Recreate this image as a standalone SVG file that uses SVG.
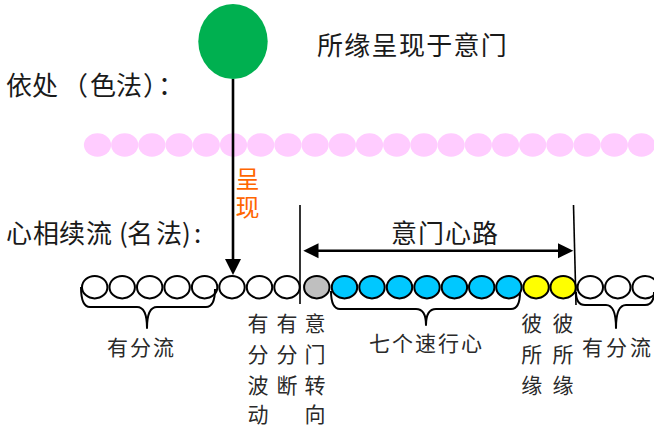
<svg xmlns="http://www.w3.org/2000/svg" width="654" height="428" viewBox="0 0 654 428">
<style>
text{font-family:"Noto Sans CJK SC","Noto Sans",sans-serif;fill:#1a1a1a}
.big{font-size:26px}
.lbl{font-size:21px;fill:#2a2a2a}
.col{font-size:21px;fill:#2a2a2a;text-anchor:middle}
.bead{fill:#FFCCFF;stroke:none}
.c{stroke:#000;stroke-width:2}
.w{fill:#fff}
.g{fill:#BFBFBF}
.b{fill:#00C8FF}
.y{fill:#FFFF00}
.brace{fill:none;stroke:#000;stroke-width:2;stroke-linejoin:round}
.ln{stroke:#000;fill:none}
</style>
<rect width="654" height="428" fill="#fff"/>

<g id="rupa-row">
<ellipse class="bead" cx="97.5" cy="145" rx="13.6" ry="11.7"/>
<ellipse class="bead" cx="124.7" cy="145" rx="13.6" ry="11.7"/>
<ellipse class="bead" cx="151.9" cy="145" rx="13.6" ry="11.7"/>
<ellipse class="bead" cx="179.1" cy="145" rx="13.6" ry="11.7"/>
<ellipse class="bead" cx="206.3" cy="145" rx="13.6" ry="11.7"/>
<ellipse class="bead" cx="233.5" cy="145" rx="13.6" ry="11.7"/>
<ellipse class="bead" cx="260.7" cy="145" rx="13.6" ry="11.7"/>
<ellipse class="bead" cx="287.9" cy="145" rx="13.6" ry="11.7"/>
<ellipse class="bead" cx="315.1" cy="145" rx="13.6" ry="11.7"/>
<ellipse class="bead" cx="342.3" cy="145" rx="13.6" ry="11.7"/>
<ellipse class="bead" cx="369.5" cy="145" rx="13.6" ry="11.7"/>
<ellipse class="bead" cx="396.7" cy="145" rx="13.6" ry="11.7"/>
<ellipse class="bead" cx="423.9" cy="145" rx="13.6" ry="11.7"/>
<ellipse class="bead" cx="451.1" cy="145" rx="13.6" ry="11.7"/>
<ellipse class="bead" cx="478.3" cy="145" rx="13.6" ry="11.7"/>
<ellipse class="bead" cx="505.5" cy="145" rx="13.6" ry="11.7"/>
<ellipse class="bead" cx="532.7" cy="145" rx="13.6" ry="11.7"/>
<ellipse class="bead" cx="559.9" cy="145" rx="13.6" ry="11.7"/>
<ellipse class="bead" cx="587.1" cy="145" rx="13.6" ry="11.7"/>
<ellipse class="bead" cx="614.3" cy="145" rx="13.6" ry="11.7"/>
<ellipse class="bead" cx="641.5" cy="145" rx="13.6" ry="11.7"/>
</g>

<g id="object">
<ellipse cx="233" cy="41.5" rx="34.7" ry="37.5" fill="#00B050"/>
</g>

<g id="mind-row">
<ellipse class="c w" cx="94.7" cy="287.2" rx="12.7" ry="11.2"/>
<ellipse class="c w" cx="122.2" cy="287.2" rx="12.7" ry="11.2"/>
<ellipse class="c w" cx="149.7" cy="287.2" rx="12.7" ry="11.2"/>
<ellipse class="c w" cx="177.1" cy="287.2" rx="12.7" ry="11.2"/>
<ellipse class="c w" cx="204.6" cy="287.2" rx="12.7" ry="11.2"/>
<ellipse class="c w" cx="232.0" cy="287.2" rx="12.7" ry="11.2"/>
<ellipse class="c w" cx="259.5" cy="287.2" rx="12.7" ry="11.2"/>
<ellipse class="c w" cx="287.0" cy="287.2" rx="12.7" ry="11.2"/>
<ellipse class="c g" cx="316.8" cy="287.2" rx="12.7" ry="11.2"/>
<ellipse class="c b" cx="344.5" cy="287.2" rx="12.7" ry="11.2"/>
<ellipse class="c b" cx="372.0" cy="287.2" rx="12.7" ry="11.2"/>
<ellipse class="c b" cx="399.5" cy="287.2" rx="12.7" ry="11.2"/>
<ellipse class="c b" cx="427.0" cy="287.2" rx="12.7" ry="11.2"/>
<ellipse class="c b" cx="454.4" cy="287.2" rx="12.7" ry="11.2"/>
<ellipse class="c b" cx="481.7" cy="287.2" rx="12.7" ry="11.2"/>
<ellipse class="c b" cx="508.9" cy="287.2" rx="12.7" ry="11.2"/>
<ellipse class="c y" cx="536.1" cy="287.2" rx="12.7" ry="11.2"/>
<ellipse class="c y" cx="563.2" cy="287.2" rx="12.7" ry="11.2"/>
<ellipse class="c w" cx="590.3" cy="287.2" rx="12.7" ry="11.2"/>
<ellipse class="c w" cx="617.8" cy="287.2" rx="12.7" ry="11.2"/>
<ellipse class="c w" cx="645.2" cy="287.2" rx="12.7" ry="11.2"/>
</g>

<g id="connectors">
<line class="ln" x1="233" y1="79" x2="233" y2="261" stroke-width="2.6"/>
<polygon points="225,259 241,259 233,275" fill="#000"/>
<line class="ln" x1="300" y1="205" x2="300" y2="304" stroke-width="1.6"/>
<line class="ln" x1="573.5" y1="205" x2="576" y2="305" stroke-width="1.6"/>
<line class="ln" x1="316" y1="250.7" x2="560" y2="250.7" stroke-width="2.4"/>
<polygon points="303.3,250.7 318.5,243.2 318.5,258.2" fill="#000"/>
<polygon points="573.3,250.7 558,243.2 558,258.2" fill="#000"/>
<path class="brace" d="M81,287 Q81,307 90,307 L137,307 Q147,307 147,328 Q147,307 157,307 L206,307 Q215,307 215,289"/>
<path class="brace" d="M331,291 Q331,309 340,309 L416,309 Q426,309 426,325 Q426,309 436,309 L511,309 Q520,309 520,292"/>
<path class="brace" d="M576,292 Q576,305 585,305 L606,305 Q616,305 616,328 Q616,305 626,305 L645,305 Q654,305 654,292"/>
</g>

<g id="labels">
<text class="big" x="317 344.3 371.6 398.9 426.2 453.5 480.8" y="55">所缘呈现于意门</text>
<text class="big" x="6 32 62 90 116 143 158" y="95">依处（色法）：</text>
<text class="big" x="6 33 59 86 119 127 156 182 194" y="243">心相续流(名法):</text>
<text class="big" x="391 418 445 472" y="243">意门心路</text>
<text x="247.5" y="167" style="font-size:24px;fill:#FF6600;writing-mode:vertical-rl;letter-spacing:4px">呈现</text>
<text class="lbl" x="107 130 153" y="355">有分流</text>
<text class="lbl" x="369 392 415 438 461" y="351">七个速行心</text>
<text class="lbl" x="582 606 630" y="355">有分流</text>
<text class="col"><tspan x="258" y="331">有</tspan><tspan x="258" y="362">分</tspan><tspan x="258" y="393">波</tspan><tspan x="258" y="421.5">动</tspan></text>
<text class="col"><tspan x="287" y="331">有</tspan><tspan x="287" y="362">分</tspan><tspan x="287" y="393">断</tspan></text>
<text class="col"><tspan x="315" y="331">意</tspan><tspan x="315" y="362">门</tspan><tspan x="315" y="393">转</tspan><tspan x="315" y="421.5">向</tspan></text>
<text class="col"><tspan x="531.7" y="331">彼</tspan><tspan x="531.7" y="362">所</tspan><tspan x="531.7" y="393">缘</tspan></text>
<text class="col"><tspan x="563" y="331">彼</tspan><tspan x="563" y="362">所</tspan><tspan x="563" y="393">缘</tspan></text>
</g>
</svg>
